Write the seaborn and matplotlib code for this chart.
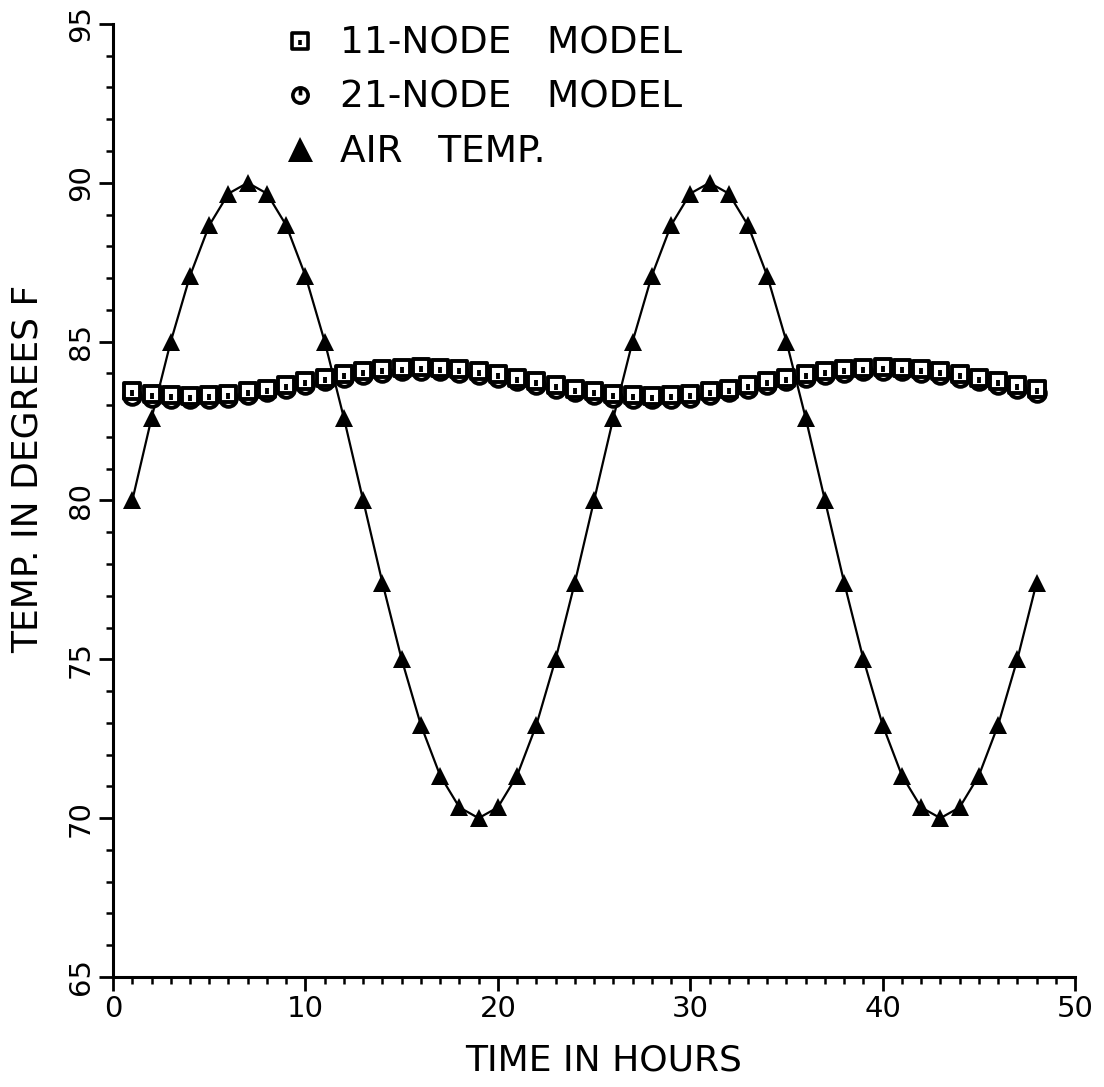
import matplotlib
matplotlib.use("Agg")
import matplotlib.pyplot as plt
import seaborn as sns
import pandas as pd
from matplotlib.path import Path
from matplotlib.lines import Line2D
from matplotlib.ticker import MultipleLocator

# ---------------- data ----------------
hours = list(range(1, 49))

air_temp = [80.00, 82.59, 85.00, 87.07, 88.66, 89.66, 90.00, 89.66, 88.66, 87.07,
            85.00, 82.59, 80.00, 77.41, 75.00, 72.93, 71.34, 70.34, 70.00, 70.34,
            71.34, 72.93, 75.00, 77.41,
            80.00, 82.59, 85.00, 87.07, 88.66, 89.66, 90.00, 89.66, 88.66, 87.07,
            85.00, 82.59, 80.00, 77.41, 75.00, 72.93, 71.34, 70.34, 70.00, 70.34,
            71.34, 72.93, 75.00, 77.41]

node11 = [83.43, 83.36, 83.32, 83.30, 83.32, 83.36, 83.43, 83.52, 83.63, 83.75,
          83.87, 83.98, 84.07, 84.14, 84.18, 84.20, 84.18, 84.14, 84.07, 83.98,
          83.87, 83.75, 83.63, 83.52,
          83.43, 83.36, 83.32, 83.30, 83.32, 83.36, 83.43, 83.52, 83.63, 83.75,
          83.87, 83.98, 84.07, 84.14, 84.18, 84.20, 84.18, 84.14, 84.07, 83.98,
          83.87, 83.75, 83.63, 83.50]

node21 = [83.30, 83.24, 83.20, 83.18, 83.20, 83.24, 83.31, 83.40, 83.51, 83.63,
          83.75, 83.86, 83.95, 84.02, 84.06, 84.08, 84.06, 84.02, 83.95, 83.86,
          83.75, 83.63, 83.51, 83.40,
          83.31, 83.24, 83.20, 83.18, 83.20, 83.24, 83.31, 83.40, 83.51, 83.63,
          83.75, 83.86, 83.95, 84.02, 84.06, 84.08, 84.06, 84.02, 83.95, 83.86,
          83.75, 83.63, 83.51, 83.38]

labels = ["11-NODE   MODEL", "21-NODE   MODEL", "AIR   TEMP."]
x_label = "TIME IN HOURS"
y_label = "TEMP. IN DEGREES F"
x_ticks = [0, 10, 20, 30, 40, 50]
y_ticks = [65, 70, 75, 80, 85, 90, 95]

df = pd.DataFrame({"hour": hours, "air": air_temp, "n11": node11, "n21": node21})

# ---------------- custom markers ----------------
sq = Path([(-1, -1), (1, -1), (1, 1), (-1, 1), (-1, -1)],
          [Path.MOVETO, Path.LINETO, Path.LINETO, Path.LINETO, Path.CLOSEPOLY])
sq_tick = Path([(0, -0.55), (0, 0.1)], [Path.MOVETO, Path.LINETO])
square_marker = Path.make_compound_path(sq, sq_tick)

circ = Path.unit_circle()
circ_tick = Path([(0, 0.0), (0, 1.0)], [Path.MOVETO, Path.LINETO])
circle_marker = Path.make_compound_path(circ, circ_tick)

# ---------------- figure ----------------
sns.set_theme(style="ticks")
plt.rcParams["font.family"] = ["DejaVu Sans"]

fig = plt.figure(figsize=(11.04, 10.87), dpi=100)
ax = fig.add_axes([0.1024, 0.1012, 0.8714, 0.8768])

sns.lineplot(data=df, x="hour", y="air", ax=ax, color="black", linewidth=1.6,
             marker="^", markersize=13, markeredgewidth=0, markerfacecolor="black",
             zorder=3)
sns.lineplot(data=df, x="hour", y="n21", ax=ax, linestyle="none", color="black",
             marker=circle_marker, markersize=12, markerfacecolor="white",
             markeredgecolor="black", markeredgewidth=2.8, zorder=4)
sns.lineplot(data=df, x="hour", y="n11", ax=ax, linestyle="none", color="black",
             marker=square_marker, markersize=12, markerfacecolor="white",
             markeredgecolor="black", markeredgewidth=2.8, zorder=5)

ax.set_xlim(0, 50)
ax.set_ylim(65, 95)
ax.set_xticks(x_ticks)
ax.set_yticks(y_ticks)
ax.xaxis.set_minor_locator(MultipleLocator(1))
ax.yaxis.set_minor_locator(MultipleLocator(1))

for side in ["top", "right"]:
    ax.spines[side].set_visible(False)
for side in ["left", "bottom"]:
    ax.spines[side].set_linewidth(2.2)
    ax.spines[side].set_color("black")

ax.tick_params(which="major", direction="out", length=10, width=2, color="black",
               labelsize=21, labelcolor="black", pad=3)
ax.tick_params(which="minor", direction="out", length=5, width=1.8, color="black")
for lab in ax.get_yticklabels():
    lab.set_rotation(90)
    lab.set_va("center")

ax.set_xlabel(x_label, fontsize=26, color="black")
ax.set_ylabel(y_label, fontsize=26, color="black")
ax.xaxis.set_label_coords(0.51, -0.070)
ax.yaxis.set_label_coords(-0.071, 0.533)
ax.set_facecolor("white")
fig.patch.set_facecolor("white")

handles = [
    Line2D([], [], linestyle="none", marker=square_marker, markersize=11,
           markerfacecolor="white", markeredgecolor="black", markeredgewidth=2.6),
    Line2D([], [], linestyle="none", marker=circle_marker, markersize=11,
           markerfacecolor="white", markeredgecolor="black", markeredgewidth=2.6),
    Line2D([], [], linestyle="none", marker="^", markersize=18,
           markerfacecolor="black", markeredgewidth=0),
]
leg = ax.legend(handles, labels, loc="upper left", bbox_to_anchor=(0.175, 0.998),
                frameon=False, fontsize=27, handlelength=1.0, handletextpad=0.55,
                labelspacing=0.48, borderpad=0, borderaxespad=0)
for t in leg.get_texts():
    t.set_color("black")

fig.savefig("out.png", dpi=100, facecolor="white")
